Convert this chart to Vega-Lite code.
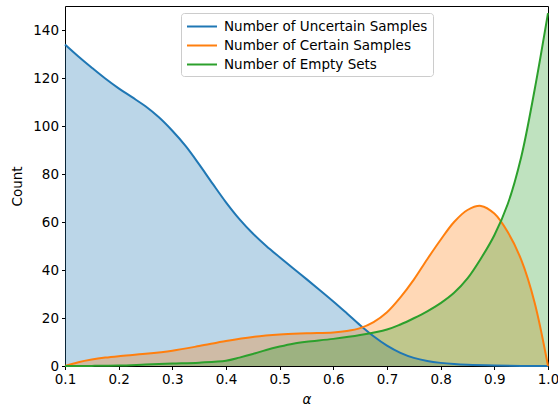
{
  "$schema": "https://vega.github.io/schema/vega-lite/v6.json",
  "width": 483,
  "height": 360,
  "autosize": "none",
  "padding": {"left": 65, "top": 6, "right": 10, "bottom": 44},
  "background": "white",
  "config": {
    "font": "DejaVu Sans",
    "view": {"stroke": "black", "strokeWidth": 1},
    "axis": {
      "grid": false,
      "domain": false,
      "tickColor": "black",
      "tickSize": 3.5,
      "tickWidth": 1,
      "labelColor": "black",
      "labelFont": "DejaVu Sans",
      "labelFontSize": 13.5,
      "labelPadding": 3,
      "labelFlush": false,
      "titleFont": "DejaVu Sans",
      "titleFontSize": 13.5,
      "titleFontWeight": "normal",
      "titleColor": "black"
    }
  },
  "data": {
    "values": [
      {"a": 0.1, "s": "Number of Uncertain Samples", "v": 134},
      {"a": 0.125, "s": "Number of Uncertain Samples", "v": 129},
      {"a": 0.15, "s": "Number of Uncertain Samples", "v": 124.3},
      {"a": 0.175, "s": "Number of Uncertain Samples", "v": 119.8},
      {"a": 0.2, "s": "Number of Uncertain Samples", "v": 115.7},
      {"a": 0.225, "s": "Number of Uncertain Samples", "v": 112},
      {"a": 0.25, "s": "Number of Uncertain Samples", "v": 108.2},
      {"a": 0.275, "s": "Number of Uncertain Samples", "v": 103.6},
      {"a": 0.3, "s": "Number of Uncertain Samples", "v": 98},
      {"a": 0.325, "s": "Number of Uncertain Samples", "v": 91.6},
      {"a": 0.35, "s": "Number of Uncertain Samples", "v": 84},
      {"a": 0.375, "s": "Number of Uncertain Samples", "v": 76},
      {"a": 0.4, "s": "Number of Uncertain Samples", "v": 68.2},
      {"a": 0.425, "s": "Number of Uncertain Samples", "v": 61.2},
      {"a": 0.45, "s": "Number of Uncertain Samples", "v": 55.2},
      {"a": 0.475, "s": "Number of Uncertain Samples", "v": 50},
      {"a": 0.5, "s": "Number of Uncertain Samples", "v": 45.3},
      {"a": 0.525, "s": "Number of Uncertain Samples", "v": 40.7},
      {"a": 0.55, "s": "Number of Uncertain Samples", "v": 36.2},
      {"a": 0.575, "s": "Number of Uncertain Samples", "v": 31.6},
      {"a": 0.6, "s": "Number of Uncertain Samples", "v": 26.9},
      {"a": 0.625, "s": "Number of Uncertain Samples", "v": 22},
      {"a": 0.65, "s": "Number of Uncertain Samples", "v": 17},
      {"a": 0.675, "s": "Number of Uncertain Samples", "v": 12.4},
      {"a": 0.7, "s": "Number of Uncertain Samples", "v": 8.5},
      {"a": 0.725, "s": "Number of Uncertain Samples", "v": 5.5},
      {"a": 0.75, "s": "Number of Uncertain Samples", "v": 3.4},
      {"a": 0.775, "s": "Number of Uncertain Samples", "v": 2.1},
      {"a": 0.8, "s": "Number of Uncertain Samples", "v": 1.3},
      {"a": 0.825, "s": "Number of Uncertain Samples", "v": 0.8},
      {"a": 0.85, "s": "Number of Uncertain Samples", "v": 0.5},
      {"a": 0.9, "s": "Number of Uncertain Samples", "v": 0.2},
      {"a": 0.95, "s": "Number of Uncertain Samples", "v": 0.05},
      {"a": 1.0, "s": "Number of Uncertain Samples", "v": 0},
      {"a": 0.1, "s": "Number of Certain Samples", "v": 0},
      {"a": 0.125, "s": "Number of Certain Samples", "v": 1.6},
      {"a": 0.15, "s": "Number of Certain Samples", "v": 2.7},
      {"a": 0.175, "s": "Number of Certain Samples", "v": 3.5},
      {"a": 0.2, "s": "Number of Certain Samples", "v": 4.1},
      {"a": 0.25, "s": "Number of Certain Samples", "v": 5.1},
      {"a": 0.3, "s": "Number of Certain Samples", "v": 6.4},
      {"a": 0.35, "s": "Number of Certain Samples", "v": 8.3},
      {"a": 0.4, "s": "Number of Certain Samples", "v": 10.4},
      {"a": 0.45, "s": "Number of Certain Samples", "v": 12.1},
      {"a": 0.5, "s": "Number of Certain Samples", "v": 13.1},
      {"a": 0.55, "s": "Number of Certain Samples", "v": 13.6},
      {"a": 0.6, "s": "Number of Certain Samples", "v": 14},
      {"a": 0.625, "s": "Number of Certain Samples", "v": 14.6},
      {"a": 0.65, "s": "Number of Certain Samples", "v": 15.8},
      {"a": 0.675, "s": "Number of Certain Samples", "v": 18.3},
      {"a": 0.7, "s": "Number of Certain Samples", "v": 22.4},
      {"a": 0.725, "s": "Number of Certain Samples", "v": 28.6},
      {"a": 0.75, "s": "Number of Certain Samples", "v": 36},
      {"a": 0.775, "s": "Number of Certain Samples", "v": 44.5},
      {"a": 0.8, "s": "Number of Certain Samples", "v": 52.6},
      {"a": 0.825, "s": "Number of Certain Samples", "v": 60},
      {"a": 0.85, "s": "Number of Certain Samples", "v": 65},
      {"a": 0.875, "s": "Number of Certain Samples", "v": 66.7},
      {"a": 0.9, "s": "Number of Certain Samples", "v": 63.5},
      {"a": 0.925, "s": "Number of Certain Samples", "v": 55.8},
      {"a": 0.95, "s": "Number of Certain Samples", "v": 44.3},
      {"a": 0.975, "s": "Number of Certain Samples", "v": 26.5},
      {"a": 1.0, "s": "Number of Certain Samples", "v": 0},
      {"a": 0.1, "s": "Number of Empty Sets", "v": 0},
      {"a": 0.15, "s": "Number of Empty Sets", "v": 0.05},
      {"a": 0.2, "s": "Number of Empty Sets", "v": 0.2},
      {"a": 0.25, "s": "Number of Empty Sets", "v": 0.6},
      {"a": 0.3, "s": "Number of Empty Sets", "v": 1},
      {"a": 0.35, "s": "Number of Empty Sets", "v": 1.4},
      {"a": 0.4, "s": "Number of Empty Sets", "v": 2.2},
      {"a": 0.425, "s": "Number of Empty Sets", "v": 3.5},
      {"a": 0.45, "s": "Number of Empty Sets", "v": 5},
      {"a": 0.475, "s": "Number of Empty Sets", "v": 6.7},
      {"a": 0.5, "s": "Number of Empty Sets", "v": 8.1},
      {"a": 0.525, "s": "Number of Empty Sets", "v": 9.3},
      {"a": 0.55, "s": "Number of Empty Sets", "v": 10.1},
      {"a": 0.6, "s": "Number of Empty Sets", "v": 11.3},
      {"a": 0.65, "s": "Number of Empty Sets", "v": 12.9},
      {"a": 0.7, "s": "Number of Empty Sets", "v": 15.2},
      {"a": 0.725, "s": "Number of Empty Sets", "v": 17.3},
      {"a": 0.75, "s": "Number of Empty Sets", "v": 19.9},
      {"a": 0.775, "s": "Number of Empty Sets", "v": 22.8},
      {"a": 0.8, "s": "Number of Empty Sets", "v": 26.2},
      {"a": 0.825, "s": "Number of Empty Sets", "v": 30.5},
      {"a": 0.85, "s": "Number of Empty Sets", "v": 36.5},
      {"a": 0.875, "s": "Number of Empty Sets", "v": 44.8},
      {"a": 0.9, "s": "Number of Empty Sets", "v": 54.5},
      {"a": 0.925, "s": "Number of Empty Sets", "v": 67.5},
      {"a": 0.95, "s": "Number of Empty Sets", "v": 87},
      {"a": 0.975, "s": "Number of Empty Sets", "v": 115},
      {"a": 1.0, "s": "Number of Empty Sets", "v": 147}
    ]
  },
  "encoding": {
    "x": {
      "field": "a",
      "type": "quantitative",
      "scale": {"domain": [0.1, 1.0], "nice": false, "zero": false},
      "axis": {
        "title": "α",
        "titleFontStyle": "italic",
        "titlePadding": 6,
        "values": [0.1, 0.2, 0.3, 0.4, 0.5, 0.6, 0.7, 0.8, 0.9, 1.0],
        "format": ".1f"
      }
    },
    "y": {
      "field": "v",
      "type": "quantitative",
      "stack": null,
      "scale": {"domain": [0, 150], "nice": false},
      "axis": {
        "title": "Count",
        "titlePadding": 8,
        "values": [0, 20, 40, 60, 80, 100, 120, 140]
      }
    }
  },
  "layer": [
    {
      "transform": [{"filter": "datum.s === 'Number of Uncertain Samples'"}],
      "mark": {"type": "area", "interpolate": "catmull-rom", "fill": "#1f77b4", "fillOpacity": 0.3}
    },
    {
      "transform": [{"filter": "datum.s === 'Number of Certain Samples'"}],
      "mark": {"type": "area", "interpolate": "catmull-rom", "fill": "#ff7f0e", "fillOpacity": 0.3}
    },
    {
      "transform": [{"filter": "datum.s === 'Number of Empty Sets'"}],
      "mark": {"type": "area", "interpolate": "catmull-rom", "fill": "#2ca02c", "fillOpacity": 0.3}
    },
    {
      "mark": {"type": "line", "interpolate": "catmull-rom", "strokeWidth": 2},
      "encoding": {
        "color": {
          "field": "s",
          "type": "nominal",
          "scale": {
            "domain": ["Number of Uncertain Samples", "Number of Certain Samples", "Number of Empty Sets"],
            "range": ["#1f77b4", "#ff7f0e", "#2ca02c"]
          },
          "legend": {
            "title": null,
            "orient": "none",
            "legendX": 116,
            "legendY": 7,
            "symbolType": "M-1,0H3",
            "symbolSize": 225,
            "symbolStrokeWidth": 2,
            "labelOffset": 21,
            "labelFontSize": 13.5,
            "labelFont": "DejaVu Sans",
            "labelColor": "black",
            "rowPadding": 4,
            "padding": 5,
            "strokeColor": "#cccccc",
            "fillColor": "rgba(255,255,255,0.8)",
            "cornerRadius": 3,
            "labelLimit": 400
          }
        }
      }
    }
  ]
}
